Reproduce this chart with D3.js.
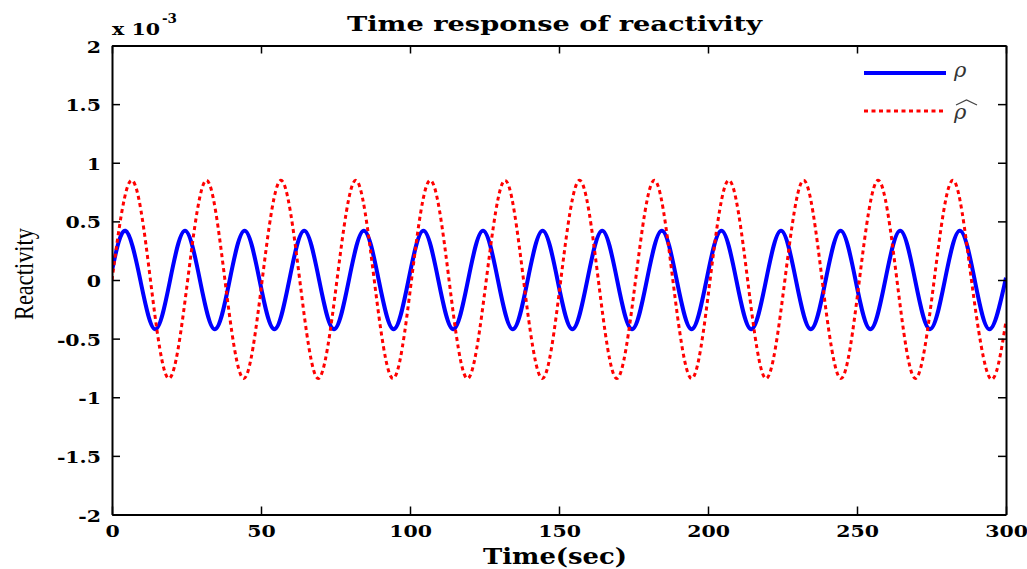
<!DOCTYPE html>
<html>
<head>
<meta charset="utf-8">
<script src="https://cdn.jsdelivr.net/npm/d3@7/dist/d3.min.js"></script>
<style>
  body { margin: 0; background: #fff; }
  svg { display: block; }
</style>
</head>
<body>
<div id="chart"></div>
<script>
// axis ticks (reactivity in units of 1e-3)
const timeTicks = [0, 50, 100, 150, 200, 250, 300];
const reactTicks = [-2, -1.5, -1, -0.5, 0, 0.5, 1, 1.5, 2];

// rho : peaks / zero crossings / troughs
const rhoTime = [0, 4.5, 9.5, 14.5, 19.5, 24.5, 29.5, 34.5, 39.5, 44.5, 49.5, 54.5, 59.5,
  64.5, 69.5, 74.5, 79.5, 84.5, 89.5, 94.5, 99.5, 104.5, 109.5, 114.5, 119.5, 124.5, 129.5,
  134.5, 139.5, 144.5, 149.5, 154.5, 159.5, 164.5, 169.5, 174.5, 179.5, 184.5, 189.5, 194.5,
  199.5, 204.5, 209.5, 214.5, 219.5, 224.5, 229.5, 234.5, 239.5, 244.5, 249.5, 254.5, 259.5,
  264.5, 269.5, 274.5, 279.5, 284.5, 289.5, 294.5, 300];
const rhoValue = [0.08,
  0.42, 0, -0.42, 0,  0.42, 0, -0.42, 0,  0.42, 0, -0.42, 0,  0.42, 0, -0.42, 0,
  0.42, 0, -0.42, 0,  0.42, 0, -0.42, 0,  0.42, 0, -0.42, 0,  0.42, 0, -0.42, 0,
  0.42, 0, -0.42, 0,  0.42, 0, -0.42, 0,  0.42, 0, -0.42, 0,  0.42, 0, -0.42, 0,
  0.42, 0, -0.42, 0,  0.42, 0, -0.42, 0,  0.42, 0, -0.42,
  0.02];

// rho-hat (estimate)
const rhoHatTime = [0, 6.6, 12.9, 19.1, 25.4, 31.7, 37.9, 44.2, 50.4, 56.7, 63.0, 69.2, 75.5,
  81.8, 88.0, 94.3, 100.5, 106.8, 113.1, 119.3, 125.6, 131.9, 138.1, 144.4, 150.6, 156.9,
  163.2, 169.4, 175.7, 182.0, 188.2, 194.5, 200.7, 207.0, 213.3, 219.5, 225.8, 232.1, 238.3,
  244.6, 250.8, 257.1, 263.4, 269.6, 275.9, 282.2, 288.4, 294.7, 300];
const rhoHatValue = [0.0,
  0.85, 0, -0.84, 0,  0.85, 0, -0.84, 0,  0.85, 0, -0.84, 0,  0.85, 0, -0.84, 0,
  0.85, 0, -0.84, 0,  0.85, 0, -0.84, 0,  0.85, 0, -0.84, 0,  0.85, 0, -0.84, 0,
  0.85, 0, -0.84, 0,  0.85, 0, -0.84, 0,  0.85, 0, -0.84, 0,
  0.85, 0, -0.84, -0.35];

const W = 1027, H = 569;
const margin = {top: 45.5, right: 21, bottom: 54.5, left: 112};
const width = W - margin.left - margin.right;
const height = H - margin.top - margin.bottom;
const serif = "'DejaVu Serif', serif";

const svg = d3.select("#chart").append("svg")
  .attr("width", W).attr("height", H);

const g = svg.append("g")
  .attr("transform", `translate(${margin.left},${margin.top})`);

const x = d3.scaleLinear().domain([0, 300]).range([0, width]);
const y = d3.scaleLinear().domain([-2, 2]).range([height, 0]);

// stretch a text element horizontally (the reference glyphs are wide)
function widen(sel, k) {
  sel.each(function () {
    const len = this.getComputedTextLength();
    d3.select(this).attr("textLength", len * k).attr("lengthAdjust", "spacingAndGlyphs");
  });
}

g.append("clipPath").attr("id", "clip")
  .append("rect").attr("width", width).attr("height", height);

const line = d3.line()
  .x(d => x(d[0]))
  .y(d => y(d[1]))
  .curve(d3.curveNatural);

const rhoData = rhoTime.map((t, i) => [t, rhoValue[i]]);
const rhoHatData = rhoHatTime.map((t, i) => [t, rhoHatValue[i]]);

const plot = g.append("g").attr("clip-path", "url(#clip)");

plot.append("path")
  .datum(rhoData)
  .attr("d", line)
  .attr("fill", "none")
  .attr("stroke", "#0000ff")
  .attr("stroke-width", 4);

plot.append("path")
  .datum(rhoHatData)
  .attr("d", line)
  .attr("fill", "none")
  .attr("stroke", "#ff0000")
  .attr("stroke-width", 3)
  .attr("stroke-dasharray", "4,3.5");

// axes, ticks inward on all four sides
const tickLen = 8;
const fmt = d => String(d);

const xAxis = g.append("g")
  .attr("transform", `translate(0,${height})`)
  .call(d3.axisBottom(x).tickValues(timeTicks).tickSizeInner(-tickLen).tickSizeOuter(0).tickFormat(fmt));
const xTop = g.append("g")
  .call(d3.axisTop(x).tickValues(timeTicks).tickSizeInner(-tickLen).tickSizeOuter(0).tickFormat(""));
const yAxis = g.append("g")
  .call(d3.axisLeft(y).tickValues(reactTicks).tickSizeInner(-tickLen).tickSizeOuter(0).tickFormat(fmt));
const yRight = g.append("g")
  .attr("transform", `translate(${width},0)`)
  .call(d3.axisRight(y).tickValues(reactTicks).tickSizeInner(-tickLen).tickSizeOuter(0).tickFormat(""));

[xAxis, xTop, yAxis, yRight].forEach(a => {
  a.select(".domain").attr("stroke", "#000").attr("stroke-width", 2);
  a.selectAll(".tick line").attr("stroke", "#000").attr("stroke-width", 1.5);
  a.selectAll("text")
    .attr("fill", "#000")
    .style("font-family", serif)
    .style("font-weight", "bold")
    .style("font-size", "17.5px");
});
xAxis.selectAll(".tick text").attr("y", 22).attr("dy", 0).call(widen, 1.17);
yAxis.selectAll(".tick text").attr("x", -11).attr("dy", 6.5).call(widen, 1.17);

// exponent label
svg.append("text")
  .attr("x", margin.left)
  .attr("y", 35)
  .style("font-family", serif)
  .style("font-weight", "bold")
  .style("font-size", "17px")
  .attr("textLength", 48)
  .attr("lengthAdjust", "spacingAndGlyphs")
  .text("x 10");
svg.append("text")
  .attr("x", 162)
  .attr("y", 23)
  .style("font-family", serif)
  .style("font-weight", "bold")
  .style("font-size", "12px")
  .attr("textLength", 15)
  .attr("lengthAdjust", "spacingAndGlyphs")
  .text("-3");

// title
svg.append("text")
  .attr("x", 347)
  .attr("y", 31)
  .style("font-family", serif)
  .style("font-weight", "bold")
  .style("font-size", "21px")
  .attr("textLength", 415)
  .attr("lengthAdjust", "spacingAndGlyphs")
  .text("Time response of reactivity");

// x label
svg.append("text")
  .attr("x", 483)
  .attr("y", 564)
  .style("font-family", serif)
  .style("font-weight", "bold")
  .style("font-size", "22px")
  .attr("textLength", 144)
  .attr("lengthAdjust", "spacingAndGlyphs")
  .text("Time(sec)");

// y label
svg.append("text")
  .attr("transform", "translate(33,320) rotate(-90)")
  .style("font-family", "'Liberation Serif', serif")
  .style("font-size", "27px")
  .attr("textLength", 92)
  .attr("lengthAdjust", "spacingAndGlyphs")
  .text("Reactivity");

// legend
const legendItems = [
  {label: "\u03C1", color: "#0000ff", width: 4, dash: null, yPos: 73, textY: 77, hat: false},
  {label: "\u03C1", color: "#ff0000", width: 3, dash: "4,3.5", yPos: 111, textY: 119, hat: true}
];
const legend = svg.append("g");
legendItems.forEach(it => {
  legend.append("line")
    .attr("x1", 864).attr("x2", 946)
    .attr("y1", it.yPos).attr("y2", it.yPos)
    .attr("stroke", it.color)
    .attr("stroke-width", it.width)
    .attr("stroke-dasharray", it.dash);
  legend.append("text")
    .attr("x", 954)
    .attr("y", it.textY)
    .style("font-family", serif)
    .style("font-style", "italic")
    .style("font-size", "21px")
    .attr("fill", "#333")
    .text(it.label);
  if (it.hat) {
    legend.append("path")
      .attr("d", "M956,105 L966.5,100 L977,105")
      .attr("fill", "none")
      .attr("stroke", "#444")
      .attr("stroke-width", 1.2);
  }
});
</script>
</body>
</html>
